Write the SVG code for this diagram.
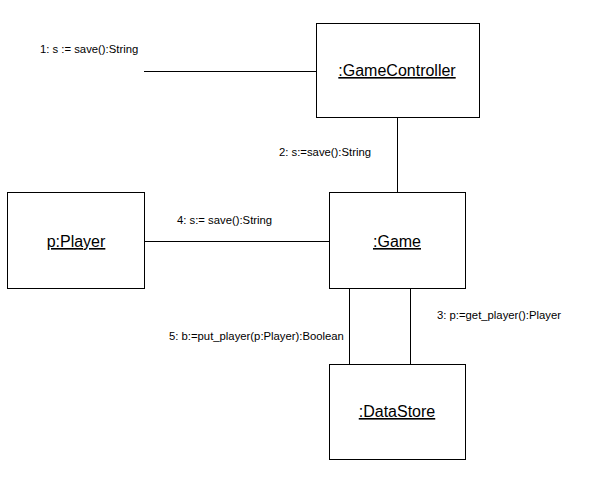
<svg xmlns="http://www.w3.org/2000/svg" width="591" height="487" viewBox="0 0 591 487">
<style>
.box{fill:#fff;stroke:#000;stroke-width:1}
.name{font-family:"Liberation Sans",Arial,sans-serif;font-size:16px;text-anchor:middle;text-decoration:underline;fill:#000}
.lbl{font-family:"Liberation Sans",Arial,sans-serif;font-size:11.3px;fill:#000}
.conn line{stroke:#000;stroke-width:1}
</style>
<rect width="591" height="487" fill="#fff"/>
<g id="connectors" class="conn">
<line x1="144" y1="71.5" x2="316" y2="71.5"/>
<line x1="397.5" y1="117" x2="397.5" y2="192"/>
<line x1="144" y1="241.5" x2="329" y2="241.5"/>
<line x1="349.5" y1="288" x2="349.5" y2="364"/>
<line x1="410.5" y1="288" x2="410.5" y2="364"/>
</g>
<g id="labels">
<text class="lbl" x="40" y="53">1: s := save():String</text>
<text class="lbl" x="279" y="156">2: s:=save():String</text>
<text class="lbl" x="177" y="224">4: s:= save():String</text>
<text class="lbl" x="437" y="319">3: p:=get_player():Player</text>
<text class="lbl" x="169" y="340">5: b:=put_player(p:Player):Boolean</text>
</g>
<g id="gamecontroller">
<rect class="box" x="316.5" y="23.5" width="163" height="94"/>
<text class="name" x="397" y="76">:GameController</text>
</g>
<g id="game">
<rect class="box" x="329.5" y="192.5" width="136" height="96"/>
<text class="name" x="397" y="247">:Game</text>
</g>
<g id="player">
<rect class="box" x="7.5" y="192.5" width="137" height="96"/>
<text class="name" x="76" y="247">p:Player</text>
</g>
<g id="datastore">
<rect class="box" x="329.5" y="364.5" width="136" height="95"/>
<text class="name" x="397" y="417">:DataStore</text>
</g>
</svg>
